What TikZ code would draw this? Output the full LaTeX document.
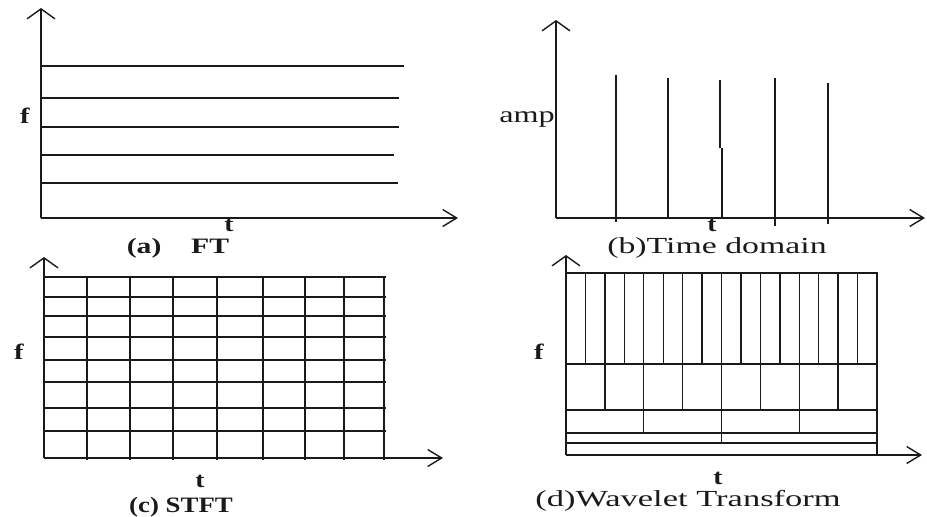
\documentclass[tikz,border=0pt]{standalone}
\usepackage{fontspec}
\setmainfont{Liberation Serif}
\usetikzlibrary{arrows.meta}
\definecolor{trline}{HTML}{1A1A1A}
\newcommand{\largo}[2][1.47]{\scalebox{#1}[1]{#2}}
\tikzset{
  tr/.style={draw=trline,line width=1.4pt},
  eixoy/.style={tr,-{Straight Barb[length=10pt,width=28pt]}},
  eixox/.style={tr,-{Straight Barb[length=14pt,width=17pt]}},
  rot/.style={font=\fontsize{23}{23}\selectfont,text=trline,inner sep=0pt,anchor=base},
  rotn/.style={rot,font=\fontsize{22}{22}\selectfont\bfseries},
}

\begin{document}
\begin{tikzpicture}[x=1pt,y=-1pt]
  \useasboundingbox (0,0) rectangle (927,517);
  % (a) FT
  \draw[eixoy] (41,218) -- (41,8);
  \draw[eixox] (41,218) -- (458,218);
  \foreach \y/\x in {66/404, 98/399, 127/399, 155/394, 183/398}
    \draw[tr] (41,\y) -- (\x,\y);
  \node[rotn] (fa) at (25,123) {\largo[1.3]{f}};
  \node[rotn] (ta) at (229,231) {\largo[1.25]{t}};
  \node[rotn] (capa) at (178,253) {\largo[1.35]{(a)\hspace{22pt}FT}};
  % (b) dominio do tempo
  \draw[eixoy] (556,218) -- (556,20);
  \draw[eixox] (556,218) -- (925,218);
  \foreach \x/\ya/\yb in {616/75/222, 668/78/219, 775/78/226, 828/83/224}
    \draw[tr] (\x,\ya) -- (\x,\yb);
  \draw[tr] (720,80) -- (720,148);                                   % pulso partido
  \draw[tr] (722,148) -- (722,218);
  \node[rot,anchor=base east] (amp) at (555,122) {\largo[1.4]{amp}};
  \node[rotn] (tb) at (712,231) {\largo[1.25]{t}};
  \node[rot] (capb) at (717,253) {\largo{(b)Time domain}};
  % (c) STFT
  \draw[eixoy] (44,458) -- (44,257);
  \draw[eixox] (44,458) -- (443,458);
  \foreach \y in {277,297,316,337,360,382,408,431}
    \draw[tr] (44,\y) -- (386,\y);
  \foreach \x in {87,130,173,217,263,305,344,384}
    \draw[tr] (\x,277) -- (\x,460);
  \node[rotn] (fc) at (19,359) {\largo[1.3]{f}};
  \node[rotn] (tc) at (200,487) {\largo[1.25]{t}};
  \node[rotn] (capc) at (181,512) {\largo[1.22]{(c) STFT}};
  % (d) wavelet
  \draw[eixoy] (566,455) -- (566,255);
  \draw[eixox] (566,455) -- (922,455);
  \draw[tr] (566,273) -- (877,273) -- (877,455);
  \foreach \y in {364,410,433,443}
    \draw[tr] (566,\y) -- (877,\y);
  \foreach \k in {1,...,15}
    \draw[tr] ({566+\k*19.44},273) -- ++(0,91);
  \foreach \k in {1,...,7}
    \draw[tr] ({566+\k*38.875},364) -- ++(0,46);
  \foreach \k in {1,2,3}
    \draw[tr] ({566+\k*77.75},410) -- ++(0,23);
  \draw[tr] (721.5,433) -- ++(0,10);
  \node[rotn] (fd) at (539,359) {\largo[1.3]{f}};
  \node[rotn] (td) at (718,484) {\largo[1.25]{t}};
  \node[rot] (capd) at (688,506) {\largo[1.5]{(d)Wavelet Transform}};
\end{tikzpicture}
\end{document}
